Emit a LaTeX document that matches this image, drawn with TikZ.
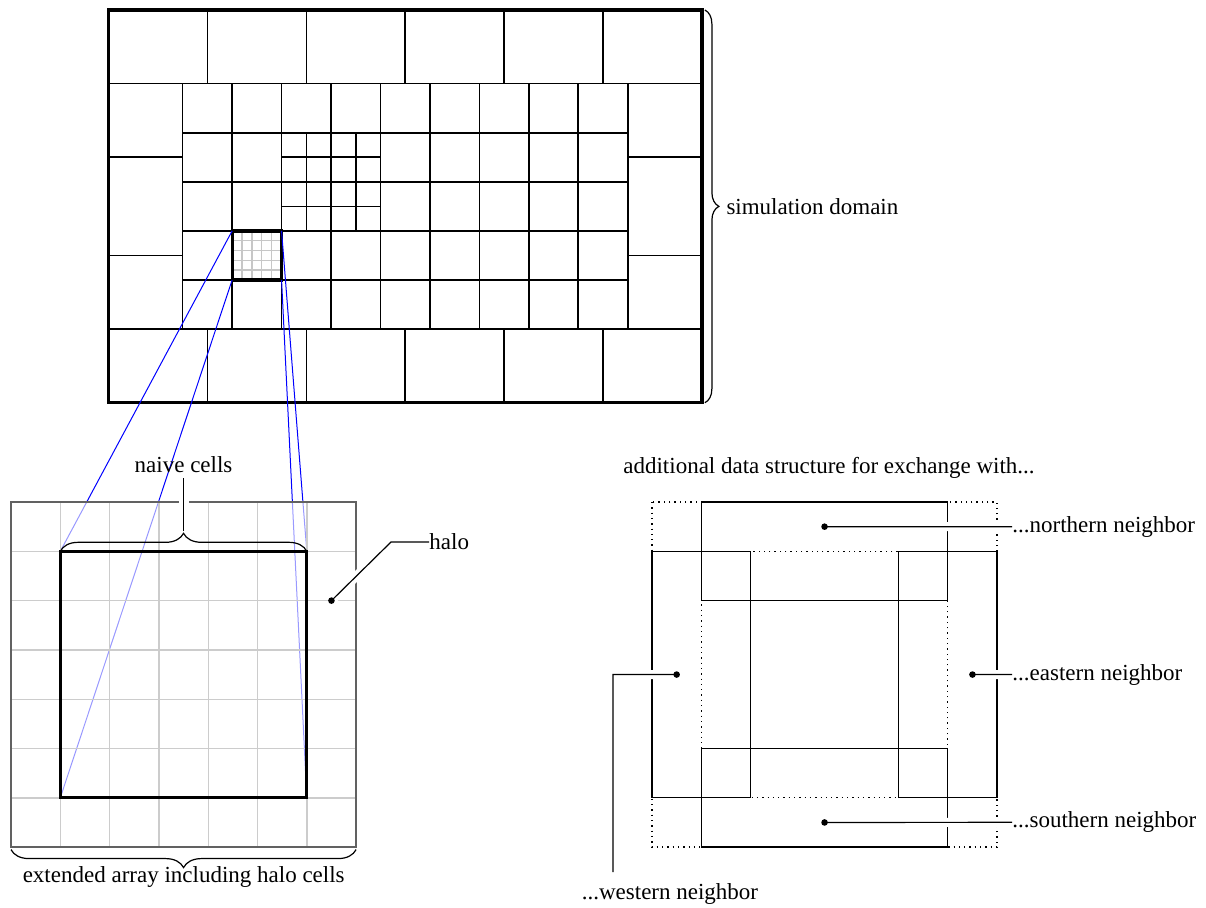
\documentclass[tikz,border=0pt]{standalone}
\usepackage{fontspec}
\setmainfont{Liberation Serif}
\usetikzlibrary{decorations.pathreplacing}
\begin{document}
\begin{tikzpicture}[x=0.5pt,y=-0.5pt,
  font=\fontsize{11.5}{13}\selectfont,
  thinl/.style={line width=0.8pt},
  thickl/.style={line width=1.6pt},
  subgrid/.style={line width=0.7pt, black!22},
  blueline/.style={blue, line width=0.5pt},
  bracel/.style={line width=0.6pt, decorate, decoration={brace, amplitude=#1}},
  leader/.style={line width=0.6pt, preaction={draw=white, line width=4.5pt}},
  structl/.style={line width=0.65pt},
  lbl/.style={inner sep=0pt},
  dotmark/.style={fill=black}]
\useasboundingbox (0,0) rectangle (1206,907);

% ---------- coordinates of the zoomed grid (left) ----------
\begin{scope}[shift={(5.5pt,-251pt)}, x=24.65pt, y=-24.65pt]
  \coordinate (zTL) at (1,1);
  \coordinate (zTR) at (6,1);
  \coordinate (zBL) at (1,6);
  \coordinate (zBR) at (6,6);
\end{scope}

% ---------- simulation domain ----------
\begin{scope}[shift={(54.25pt,-5pt)}, x=24.725pt, y=-24.545pt]
  % sub-grid of highlighted cell
  \draw[subgrid] foreach \i in {1,...,4} {(2.5+0.2*\i,4.5) -- (2.5+0.2*\i,5.5) (2.5,4.5+0.2*\i) -- (3.5,4.5+0.2*\i)};
  % top and bottom rows
  \draw[thinl] (0,1.5) -- (12,1.5) (0,6.5) -- (12,6.5)
    foreach \i in {2,4,6,8,10} {(\i,0) -- (\i,1.5) (\i,6.5) -- (\i,8)};
  % left and right columns
  \draw[thinl] (0,3) -- (1.5,3) (0,5) -- (1.5,5) (10.5,3) -- (12,3) (10.5,5) -- (12,5);
  % middle grid
  \draw[thinl] foreach \i in {0,...,9} {(1.5+\i,1.5) -- (1.5+\i,6.5)}
               foreach \j in {0,...,5} {(1.5,1.5+\j) -- (10.5,1.5+\j)};
  % fine grid
  \draw[thinl] foreach \i in {0,...,4} {(3.5+0.5*\i,2.5) -- (3.5+0.5*\i,4.5) (3.5,2.5+0.5*\i) -- (5.5,2.5+0.5*\i)};
  % highlighted cell
  \draw[thickl] (2.5,4.5) rectangle (3.5,5.5);
  \coordinate (cTL) at (2.5,4.5);
  \coordinate (cTR) at (3.5,4.5);
  \coordinate (cBL) at (2.5,5.5);
  \coordinate (cBR) at (3.5,5.5);
  % outer border
  \draw[line width=1.6pt] (0,0) rectangle (12,8);
  \coordinate (dTR) at (12,0);
  \coordinate (dBR) at (12,8);
\end{scope}

\draw[bracel=7pt] ([xshift=1.5pt]dTR) -- ([xshift=1.5pt]dBR)
  node[midway, anchor=west, lbl, xshift=10.5pt] (simlabel) {simulation domain};

% ---------- zoom lines ----------
\draw[blueline] (cTL) -- (zTL);
\draw[blueline] (cBL) -- (zBL);
\draw[blueline] (cTR) -- (zTR);
\draw[blueline] (cBR) -- (zBR);

% ---------- extended array (left) ----------
\begin{scope}[shift={(5.5pt,-251pt)}, x=24.65pt, y=-24.65pt]
  \fill[white, fill opacity=0.6] (0,0) rectangle (7,7);
  \draw[line width=0.7pt, black!20] foreach \i in {1,...,6} {(\i,0) -- (\i,7) (0,\i) -- (7,\i)};
  \draw[line width=0.7pt, black!62] (0,0) rectangle (7,7);
  \draw[thickl] (1,1) rectangle (6,6);
  \coordinate (hdot) at (6.5,2);
  \coordinate (gBL) at (0,7.05);
  \coordinate (gBR) at (7,7.05);
\end{scope}

% naive cells brace with stem
\coordinate (stemtop) at (183.55,478);
\coordinate (stembot) at (183.55,531);
\draw[line width=0.6pt, preaction={draw=white, line width=5pt}] (stembot) -- (stemtop);
\draw[bracel=9pt] (zTL) -- (zTR);
\node[lbl, anchor=base] (naive) at (183.55,472) {naive cells};

% extended array brace
\draw[bracel=9pt] (gBR) -- (gBL);
\node[lbl, anchor=base] (ext) at (183.7,882) {extended array including halo cells};

% halo label
\node[lbl, anchor=west] (halo) at (429,542) {halo};
\coordinate (hbend) at (391,542);
\draw[leader] (hdot) -- (hbend) -- (halo.west);
\fill[dotmark] (hdot) circle (1.65pt);

% ---------- additional data structures (right) ----------
\node[lbl, anchor=base] (addl) at (829,473) {additional data structure for exchange with...};
\begin{scope}[shift={(326pt,-251pt)}, x=24.65pt, y=-24.65pt]
  \draw[structl, dotted] (0,0) rectangle (7,7) (1,1) rectangle (6,6);
  \draw[structl] (1,0) rectangle (6,2);
  \draw[structl] (1,5) rectangle (6,7);
  \draw[structl] (0,1) rectangle (2,6);
  \draw[structl] (5,1) rectangle (7,6);
  \coordinate (ndot) at (3.5,0.5);
  \coordinate (sdot) at (3.5,6.5);
  \coordinate (wdot) at (0.5,3.5);
  \coordinate (edot) at (6.5,3.5);
\end{scope}

\node[lbl, anchor=west] (north) at (1012,526.7) {...northern neighbor};
\node[lbl, anchor=west] (east) at (1012,674.5) {...eastern neighbor};
\node[lbl, anchor=west] (south) at (1012,822.3) {...southern neighbor};
\node[lbl, anchor=base] (west) at (670,899) {...western neighbor};
\coordinate (wbend) at (613,674.5);
\coordinate (wend) at (613,872);

\draw[leader] (ndot) -- (north.west);
\draw[leader] (edot) -- (east.west);
\draw[leader] (sdot) -- (south.west);
\draw[leader] (wdot) -- (wbend) -- (wend);
\foreach \d in {ndot,sdot,wdot,edot} \fill[dotmark] (\d) circle (1.65pt);
\end{tikzpicture}
\end{document}
